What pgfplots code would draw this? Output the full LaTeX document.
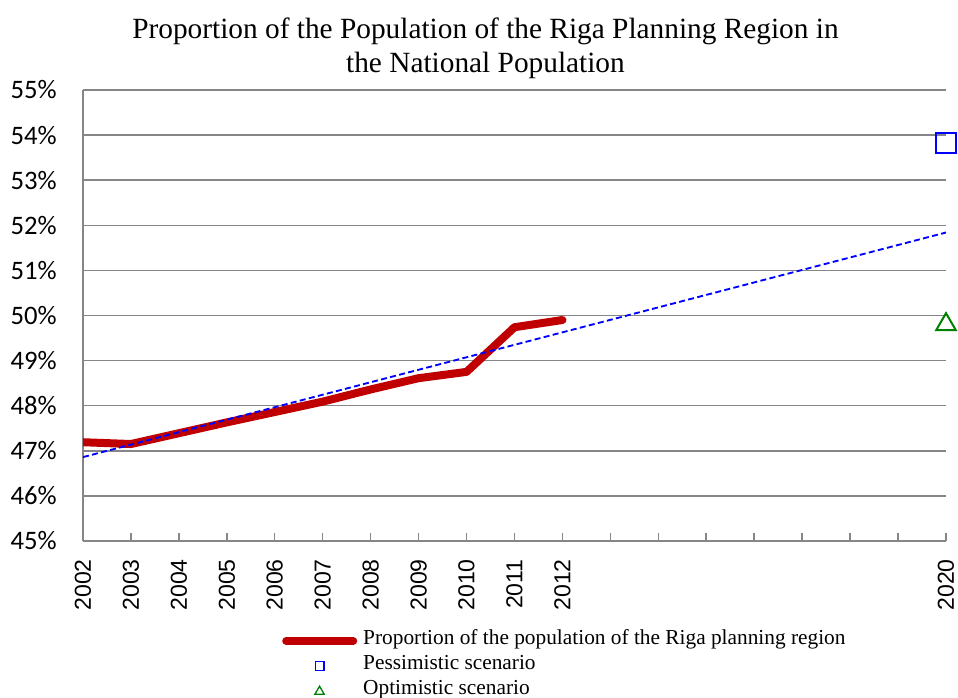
\documentclass[border=0pt]{standalone}
\usepackage{pgfplots}
\pgfplotsset{compat=1.18}
\usepackage{fontspec}
\setmainfont{Liberation Serif}
\newfontfamily\carlito{Carlito}
\newfontfamily\arial{Liberation Sans}
\definecolor{myred}{RGB}{192,0,0}
\definecolor{mygreen}{RGB}{0,128,0}
\definecolor{gridgray}{RGB}{134,134,134}
\begin{document}
\begin{tikzpicture}
\useasboundingbox (0,0) rectangle (718.5pt,523.5pt);
\node[anchor=base, inner sep=0pt, font=\fontsize{22}{26}\selectfont] at (364.1pt,494.25pt) {Proportion of the Population of the Riga Planning Region in};
\node[anchor=base, inner sep=0pt, font=\fontsize{22}{26}\selectfont] at (364.1pt,468.75pt) {the National Population};
\begin{axis}[
  at={(62.25pt,117.75pt)}, anchor=south west,
  scale only axis, width=647.25pt, height=338.25pt,
  xmin=2002, xmax=2020, ymin=45, ymax=55,
  axis x line*=bottom, axis y line*=left,
  axis line style={draw=gridgray, line width=1.1pt},
  xtick={2002,...,2020},
  xticklabels={2002,2003,2004,2005,2006,2007,2008,2009,2010,2011,2012,{},{},{},{},{},{},{},2020},
  tick align=inside,
  major tick length=6pt,
  xtick style={draw=gridgray, line width=1.1pt},
  ytick={45,...,55},
  ytick style={draw=none},
  yticklabel={\pgfmathprintnumber{\tick}\%},
  ymajorgrids, grid style={draw=gridgray, line width=1.1pt},
  /pgf/number format/assume math mode=true,
  xticklabel style={rotate=90, anchor=east, inner sep=0pt, font=\fontsize{17.3}{18}\arial},
  xticklabel shift=13.5pt,
  yticklabel style={anchor=east, inner sep=0pt, font=\fontsize{20}{21}\carlito},
  yticklabel shift=19.5pt,
  legend cell align=left,
  legend style={at={(axis description cs:0.2259,-0.1874)}, anchor=north west, draw=none, fill=none,
    font=\fontsize{16}{18}\selectfont, row sep=0pt, column sep=4.5pt,
    nodes={inner sep=0pt, text height=12pt, text depth=6.75pt}},
]
\addplot[myred, line width=6pt, line join=round, line cap=round,
  legend image code/.code={\draw[myred, line width=6pt, line cap=round] (3pt,0pt) -- (53.25pt,0pt);}]
  coordinates {(2002,47.19) (2003,47.15) (2004,47.39) (2005,47.63) (2006,47.86) (2007,48.09)
               (2008,48.36) (2009,48.61) (2010,48.75) (2011,49.74) (2012,49.90)};
\addlegendentry{Proportion of the population of the Riga planning region}
\addplot[blue, line width=1.4pt, dash pattern=on 4.5pt off 2.5pt, forget plot]
  coordinates {(2002,46.86) (2020,51.84)};
\addplot[only marks, mark=square, mark size=7.5pt, blue, line width=1.5pt,
  legend image code/.code={\path[draw=none,fill=none] (0pt,0pt) -- (56.25pt,0pt); \draw[blue, line width=1pt] (24.75pt,-3.25pt) rectangle (31.25pt,3.25pt);}]
  coordinates {(2020,53.83)};
\addlegendentry{Pessimistic scenario}
\addplot[only marks, mark=triangle, mark size=8.5pt, mygreen, line width=1.5pt,
  legend image code/.code={\path[draw=none,fill=none] (0pt,0pt) -- (56.25pt,0pt); \draw[mygreen, line width=1pt] (28pt,3.5pt) -- (24.5pt,-2.5pt) -- (31.5pt,-2.5pt) -- cycle;}]
  coordinates {(2020,49.80)};
\addlegendentry{Optimistic scenario}
\end{axis}
\end{tikzpicture}
\end{document}
